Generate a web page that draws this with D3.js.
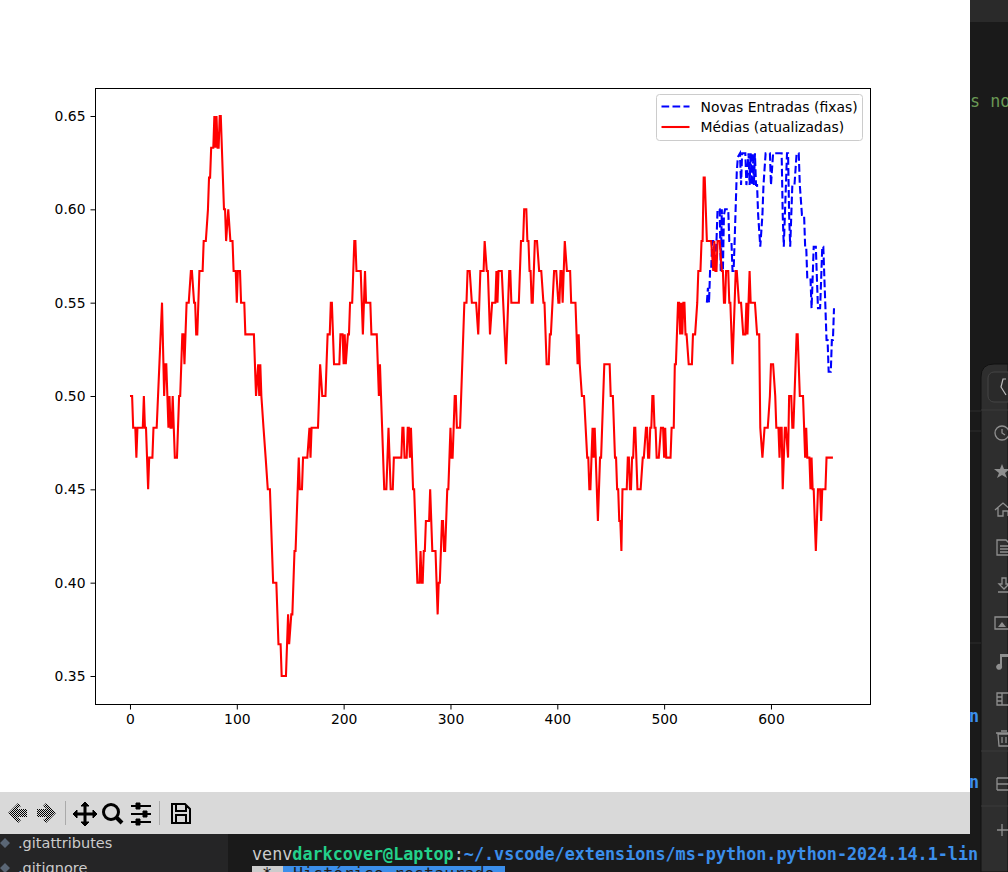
<!DOCTYPE html>
<html>
<head>
<meta charset="utf-8">
<script src="https://d3js.org/d3.v7.min.js"></script>
<style>
  html, body { margin: 0; padding: 0; background: #1a1a1a; overflow: hidden; }
  text { font-family: "DejaVu Sans", sans-serif; }
  .mono { font-family: "DejaVu Sans Mono", monospace; }
</style>
</head>
<body>
<div id="chart"></div>
<script>
// [index, value] vertices
const medias = [[0,.5],[2,.5],[3,.483],[5,.483],[6,.467],[7,.483],[12,.483],[13,.5],[14,.483],[15,.483],[17,.45],[18,.467],[21,.467],[22,.483],[25,.483],[30,.55],
  [32,.5],[33,.517],[34,.517],[35,.5],[36,.483],[37,.5],[38,.483],[39,.483],[40,.5],[41,.483],[42,.467],[44,.467],[46,.5],[47,.5],[49,.533],[50,.533],[51,.517],[53,.55],[55,.55],
  [57,.567],[58,.567],[60,.55],[61,.55],[62,.533],[63,.533],[65,.567],[68,.567],[69,.583],[71,.583],[73,.6],[74,.617],[75,.617],[76,.633],[78,.633],[79,.65],[80,.633],[81,.65],
  [82,.633],[83,.633],[84,.65],[85,.65],[88,.6],[89,.6],[90,.583],[92,.6],[94,.583],[96,.583],[97,.567],[99,.567],[100,.55],[101,.567],[103,.567],[104,.55],[107,.55],[108,.533],
  [116,.533],[118,.5],[120,.517],[121,.5],[122,.517],[123,.5],[125,.483],[127,.467],[129,.45],[131,.45],[134,.4],[137,.4],[139,.367],[141,.367],[142,.35],[146,.35],[148,.383],
  [149,.367],[151,.383],[152,.383],[154,.417],[155,.417],[158,.467],[159,.45],[161,.45],[162,.467],[166,.467],[168,.483],[169,.467],[170,.483],[176,.483],[178,.517],[180,.5],
  [183,.5],[184,.517],[185,.533],[187,.533],[188,.55],[189,.55],[191,.517],[196,.517],[197,.533],[199,.533],[200,.517],[201,.533],[202,.517],[204,.533],[205,.533],[206,.55],
  [208,.55],[210,.583],[211,.583],[212,.567],[216,.567],[218,.533],[220,.567],[221,.55],[225,.55],[226,.533],[231,.533],[233,.5],[234,.517],[235,.5],[238,.45],[240,.45],[242,.483],
  [244,.45],[246,.45],[247,.467],[254,.467],[255,.483],[256,.483],[257,.467],[259,.467],[260,.483],[261,.483],[262,.467],[263,.483],[264,.467],[265,.45],[266,.45],[269,.4],
  [271,.4],[272,.417],[273,.4],[274,.4],[275,.417],[276,.417],[277,.433],[280,.433],[281,.45],[283,.417],[286,.417],[287,.4],[288,.383],[289,.4],[290,.4],[292,.433],[293,.433],
  [294,.417],[295,.417],[297,.45],[298,.45],[300,.483],[301,.467],[302,.467],[304,.5],[305,.5],[306,.483],[309,.483],[313,.55],[315,.55],[316,.567],[318,.567],[320,.55],[324,.55],
  [326,.533],[327,.55],[328,.567],[331,.567],[332,.583],[334,.567],[335,.567],[337,.533],[339,.55],[342,.55],[343,.567],[344,.55],[345,.567],[348,.567],[352,.517],[355,.567],
  [356,.567],[357,.55],[364,.55],[366,.583],[368,.583],[369,.6],[371,.6],[372,.583],[373,.583],[374,.567],[375,.567],[376,.55],[377,.55],[379,.583],[381,.583],[383,.567],[385,.567],
  [387,.55],[388,.55],[390,.517],[392,.517],[393,.533],[394,.533],[397,.567],[399,.567],[401,.55],[402,.55],[403,.567],[404,.567],[405,.55],[407,.583],[409,.567],[412,.567],[413,.55],
  [417,.55],[419,.517],[420,.533],[421,.517],[423,.5],[425,.5],[428,.467],[429,.467],[430,.45],[431,.45],[432,.467],[433,.483],[434,.467],[435,.483],[436,.467],[438,.433],[440,.467],
  [441,.467],[444,.517],[449,.517],[450,.5],[452,.5],[454,.467],[455,.467],[456,.45],[457,.45],[458,.433],[459,.433],[460,.417],[461,.45],[465,.45],[466,.467],[467,.467],[468,.45],
  [469,.45],[470,.467],[471,.467],[472,.483],[473,.483],[475,.45],[478,.45],[480,.467],[481,.467],[483,.483],[484,.483],[485,.467],[486,.467],[487,.483],[488,.483],[489,.5],[490,.5],
  [491,.483],[492,.483],[493,.467],[495,.467],[497,.483],[499,.483],[500,.467],[501,.483],[502,.467],[506,.467],[507,.483],[509,.483],[510,.517],[511,.517],[513,.55],[514,.55],
  [515,.533],[516,.55],[517,.533],[518,.55],[519,.55],[520,.533],[521,.533],[523,.517],[526,.517],[527,.533],[529,.533],[531,.55],[532,.567],[534,.567],[535,.583],[536,.583],
  [537,.617],[538,.617],[540,.583],[544,.583],[546,.567],[547,.583],[548,.567],[549,.567],[550,.583],[552,.583],[554,.567],[555,.567],[556,.55],[557,.55],[558,.567],[560,.567],
  [561,.55],[562,.55],[564,.517],[566,.55],[567,.567],[568,.567],[570,.55],[572,.55],[574,.533],[576,.533],[577,.55],[578,.533],[579,.55],[580,.567],[581,.55],[585,.55],[587,.533],
  [589,.533],[590,.483],[592,.467],[594,.483],[597,.483],[599,.5],[600,.517],[602,.517],[604,.5],[605,.483],[607,.483],[608,.467],[609,.483],[610,.483],[611,.45],[613,.483],[614,.483],
  [616,.467],[617,.5],[619,.5],[620,.483],[621,.483],[624,.533],[625,.533],[627,.5],[630,.5],[632,.467],[633,.483],[634,.467],[636,.467],[637,.45],[638,.467],[639,.45],[640,.45],
  [641,.433],[642,.417],[643,.433],[644,.45],[646,.45],[647,.433],[648,.45],[651,.45],[652,.467],[658,.467]];

const novas = [[540,.55],[541,.558],[542,.55],[543,.567],[544,.567],[545,.583],[546,.583],[547,.567],[549,.583],[550,.6],[552,.6],[553,.567],[554,.6],[555,.567],[556,.597],[557,.6],
  [560,.6],[561,.583],[563,.583],[564,.567],[565,.567],[566,.583],[568,.62],[569,.628],[571,.63],[572,.613],[573,.63],[576,.63],[577,.613],[579,.63],[580,.613],[581,.63],[582,.613],
  [583,.63],[584,.613],[585,.63],[586,.613],[587,.613],[588,.597],[590,.58],[592,.597],[593,.613],[595,.63],[596,.63],[599,.63],[600,.613],[602,.63],[610,.63],[611,.597],[612,.58],
  [614,.613],[615,.63],[616,.63],[617,.597],[618,.58],[620,.613],[622,.613],[624,.63],[626,.63],[627,.613],[629,.597],[631,.597],[632,.58],[633,.58],[634,.563],[637,.563],[638,.547],
  [639,.563],[640,.58],[642,.58],[643,.563],[644,.547],[646,.547],[647,.563],[648,.58],[649,.58],[650,.563],[651,.547],[652,.53],[653,.53],[654,.513],[656,.513],[657,.53],[658,.53],[659,.547]];

const xTicks = [0, 100, 200, 300, 400, 500, 600];
const yTicks = [0.35, 0.40, 0.45, 0.50, 0.55, 0.60, 0.65];
const labels = ["Novas Entradas (fixas)", "Médias (atualizadas)"];

const W = 1008, H = 872;
const plot = { left: 95.5, right: 870.5, top: 88.5, bottom: 704.5 };

const svg = d3.select("#chart").append("svg")
    .attr("width", W)
    .attr("height", H)
    .style("display", "block");

// desktop behind the figure window
svg.append("rect").attr("width", W).attr("height", H).attr("fill", "#1a1a1a");
svg.append("rect").attr("x", 970).attr("width", 38).attr("height", 22).attr("fill", "#2a2a2a");
svg.append("text").attr("class", "mono").attr("x", 970).attr("y", 107)
    .attr("font-size", 16.75).attr("fill", "#6a9955").text("s no");

// file tree and terminal
svg.append("rect").attr("y", 834).attr("width", 228).attr("height", 38).attr("fill", "#252526");
svg.append("path").attr("d", "M5 838 L10 843 L5 848 L0 843 Z M5 863 L10 868 L5 873 L0 868 Z").attr("fill", "#5a6675");
svg.append("text").attr("x", 18).attr("y", 848).attr("font-size", 14.5).attr("fill", "#cccccc").text(".gitattributes");
svg.append("text").attr("x", 18).attr("y", 873).attr("font-size", 14.5).attr("fill", "#cccccc").text(".gitignore");
const prompt = svg.append("text").attr("class", "mono").attr("x", 252).attr("y", 860).attr("font-size", 16.75);
prompt.append("tspan").attr("fill", "#cccccc").text("venv");
prompt.append("tspan").attr("fill", "#23d18b").attr("font-weight", "bold").text("darkcover@Laptop");
prompt.append("tspan").attr("fill", "#cccccc").text(":");
prompt.append("tspan").attr("fill", "#3b8eea").attr("font-weight", "bold").text("~/.vscode/extensions/ms-python.python-2024.14.1-lin");
svg.append("rect").attr("x", 252).attr("y", 866).attr("width", 31).attr("height", 6).attr("fill", "#cccccc");
svg.append("rect").attr("x", 283).attr("y", 866).attr("width", 222).attr("height", 6).attr("fill", "#3b8eea");
svg.append("text").attr("class", "mono").attr("x", 262).attr("y", 880).attr("font-size", 16.75).attr("fill", "#1e1e1e").text("*");
svg.append("text").attr("class", "mono").attr("x", 293).attr("y", 880).attr("font-size", 16.75).attr("fill", "#1e1e1e").text("Histórico restaurado");
[722, 788].forEach(y => svg.append("text").attr("class", "mono").attr("x", 969).attr("y", y)
    .attr("font-size", 16.75).attr("font-weight", "bold").attr("fill", "#3b8eea").text("n"));

// file manager sidebar
svg.append("path").attr("d", `M${W} 364 H994 Q981 364 981 377 V${H} H${W} Z`).attr("fill", "#2e2e2e").attr("stroke", "#111111");
svg.append("rect").attr("x", 988).attr("y", 372).attr("width", 30).attr("height", 30).attr("rx", 6).attr("fill", "#2a2a2a").attr("stroke", "#444444");
svg.append("path").attr("d", "M1006 379 L1003 379 L1001 387 L1006 395").attr("fill", "none").attr("stroke", "#bbbbbb").attr("stroke-width", 1.2);
[410, 751, 806].forEach(y => svg.append("line").attr("x1", 981).attr("x2", W).attr("y1", y).attr("y2", y).attr("stroke", "#3a3a3a"));
[[970, 981, 411], [970, 981, 431], [970, 981, 643]].forEach(d => svg.append("line")
    .attr("x1", d[0]).attr("x2", d[1]).attr("y1", d[2]).attr("y2", d[2]).attr("stroke", "#2c2c2c"));
const side = svg.append("g").attr("fill", "none").attr("stroke", "#8f8f8f").attr("stroke-width", 1.3);
side.append("circle").attr("cx", 1002).attr("cy", 433).attr("r", 7);                                 // recent
side.append("path").attr("d", "M1002 429 V433 L1005 435");
svg.append("path").attr("d", "M1002 464 L1004 469 L1010 469 L1005 473 L1007 478 L1002 475 L997 478 L999 473 L994 469 L1000 469 Z").attr("fill", "#8f8f8f"); // starred
side.append("path").attr("d", "M995 510 L1003 503 L1011 510 M998 508 V516 H1003 V511 H1008 V516");  // home
side.append("path").attr("d", "M997 540 H1006 L1011 545 V555 H997 Z M1000 546 H1008 M1000 549 H1008 M1000 552 H1008"); // documents
side.append("path").attr("d", "M1002 578 h4 v6 h3 l-5 5 l-5 -5 h3 Z M998 592 H1010");               // downloads
side.append("path").attr("d", "M995 617 H1012 V629 H995 Z");                                          // pictures
svg.append("path").attr("d", "M998 627 L1002 622 L1006 627 Z").attr("fill", "#8f8f8f");
svg.append("path").attr("d", "M1000 654 H1010 V657 H1002 V666 A3 3 0 1 1 1000 664 Z").attr("fill", "#8f8f8f"); // music
side.append("path").attr("d", "M997 693 H1010 V705 H997 Z M1002 693 V705 M997 697 H1002 M997 701 H1002"); // videos
side.append("path").attr("d", "M998 734 H1010 L1009 746 H999 Z M996 733 H1012 M1001 731 H1007 M1002 737 V743 M1006 737 V743"); // trash
side.append("path").attr("d", "M997 778 H1010 M997 784 H1010 M997 790 H1010 M997 778 V790 M1010 778 V790");  // other places
side.append("path").attr("d", "M997 830 H1008 M1002 824 V836");                                       // add

// figure window
svg.append("rect").attr("width", 970).attr("height", 792).attr("fill", "#ffffff");
svg.append("rect").attr("y", 792).attr("width", 970).attr("height", 42).attr("fill", "#d9d9d9");

// toolbar
const defs = svg.append("defs");
const checker = defs.append("pattern").attr("id", "checker").attr("width", 2).attr("height", 2).attr("patternUnits", "userSpaceOnUse");
checker.append("rect").attr("width", 1).attr("height", 1).attr("fill", "#000000");
checker.append("rect").attr("x", 1).attr("y", 1).attr("width", 1).attr("height", 1).attr("fill", "#000000");

const tb = svg.append("g").attr("fill", "none").attr("stroke", "#000000");
tb.append("path").attr("d", "M8 813 L18 803 L21 806 L17 809 H27 V817 H17 L21 820 L18 823 Z").attr("fill", "url(#checker)").attr("stroke", "none");
tb.append("path").attr("d", "M56 813 L46 803 L43 806 L47 809 H37 V817 H47 L43 820 L46 823 Z").attr("fill", "url(#checker)").attr("stroke", "none");
svg.append("line").attr("x1", 65.5).attr("x2", 65.5).attr("y1", 801).attr("y2", 825).attr("stroke", "#aaaaaa");
svg.append("line").attr("x1", 159.5).attr("x2", 159.5).attr("y1", 801).attr("y2", 825).attr("stroke", "#aaaaaa");
tb.append("path").attr("d", "M74 814 H96 M85 803 V825").attr("stroke-width", 3);
tb.append("path").attr("d", "M81 806 L85 802 L89 806 Z M81 822 L85 826 L89 822 Z M77 810 L73 814 L77 818 Z M93 810 L97 814 L93 818 Z").attr("fill", "#000000");
tb.append("circle").attr("cx", 111).attr("cy", 812).attr("r", 7.5).attr("stroke-width", 3);
tb.append("path").attr("d", "M116 817 L122 823").attr("stroke-width", 4);
tb.append("path").attr("d", "M131 806 H151 M131 814 H151 M131 822 H151").attr("stroke-width", 2);
tb.append("path").attr("d", "M136 803 h4 v6 h-4 Z M143 811 h4 v6 h-4 Z M136 819 h4 v6 h-4 Z").attr("fill", "#000000");
tb.append("path").attr("d", "M172 804 H185 L190 809 V823 H172 Z M176 804 V811 H186 V805 M176 823 V815 H186 V823").attr("stroke-width", 2);

// chart
const x = d3.scaleLinear().domain([-31.8, 692.7]).range([96, 870]);
const y = d3.scaleLinear().domain([0.335, 0.665]).range([704, 88]);

const line = d3.line().x(d => x(d[0])).y(d => y(d[1]));

const axes = svg.append("g");
axes.append("g").attr("transform", `translate(0,${plot.bottom})`)
    .call(d3.axisBottom(x).tickValues(xTicks).tickSize(5).tickPadding(5).tickSizeOuter(0));
axes.append("g").attr("transform", `translate(${plot.left},0)`)
    .call(d3.axisLeft(y).tickValues(yTicks).tickFormat(d3.format(".2f")).tickSize(5).tickPadding(5).tickSizeOuter(0));
axes.selectAll(".domain").remove();
axes.selectAll("text").attr("font-size", 13.9).attr("fill", "#000000").style("font-family", '"DejaVu Sans", sans-serif');
axes.selectAll("line").attr("stroke", "#000000").attr("stroke-width", 1);

svg.append("path").datum(novas)
    .attr("d", line)
    .attr("fill", "none")
    .attr("stroke", "#0000ff")
    .attr("stroke-width", 2.08)
    .attr("stroke-dasharray", "7.7,3.3");

svg.append("path").datum(medias)
    .attr("d", line)
    .attr("fill", "none")
    .attr("stroke", "#ff0000")
    .attr("stroke-width", 2.08);

svg.append("rect")
    .attr("x", plot.left).attr("y", plot.top)
    .attr("width", plot.right - plot.left).attr("height", plot.bottom - plot.top)
    .attr("fill", "none").attr("stroke", "#000000").attr("stroke-width", 1);

// legend
const legend = svg.append("g").attr("transform", "translate(656.5,94.5)");
legend.append("rect").attr("width", 206).attr("height", 46).attr("rx", 3)
    .attr("fill", "#ffffff").attr("fill-opacity", 0.8).attr("stroke", "#cccccc").attr("stroke-width", 1);
const legendColors = ["#0000ff", "#ff0000"];
const legendDash = ["7.7,3.3", null];
labels.forEach((t, i) => {
    const ly = 12 + i * 20.5;
    legend.append("line").attr("x1", 5).attr("x2", 33).attr("y1", ly).attr("y2", ly)
        .attr("stroke", legendColors[i]).attr("stroke-width", 2.08).attr("stroke-dasharray", legendDash[i]);
    legend.append("text").attr("x", 44).attr("y", ly + 5).attr("font-size", 13.9).attr("fill", "#000000").text(t);
});
</script>
</body>
</html>
